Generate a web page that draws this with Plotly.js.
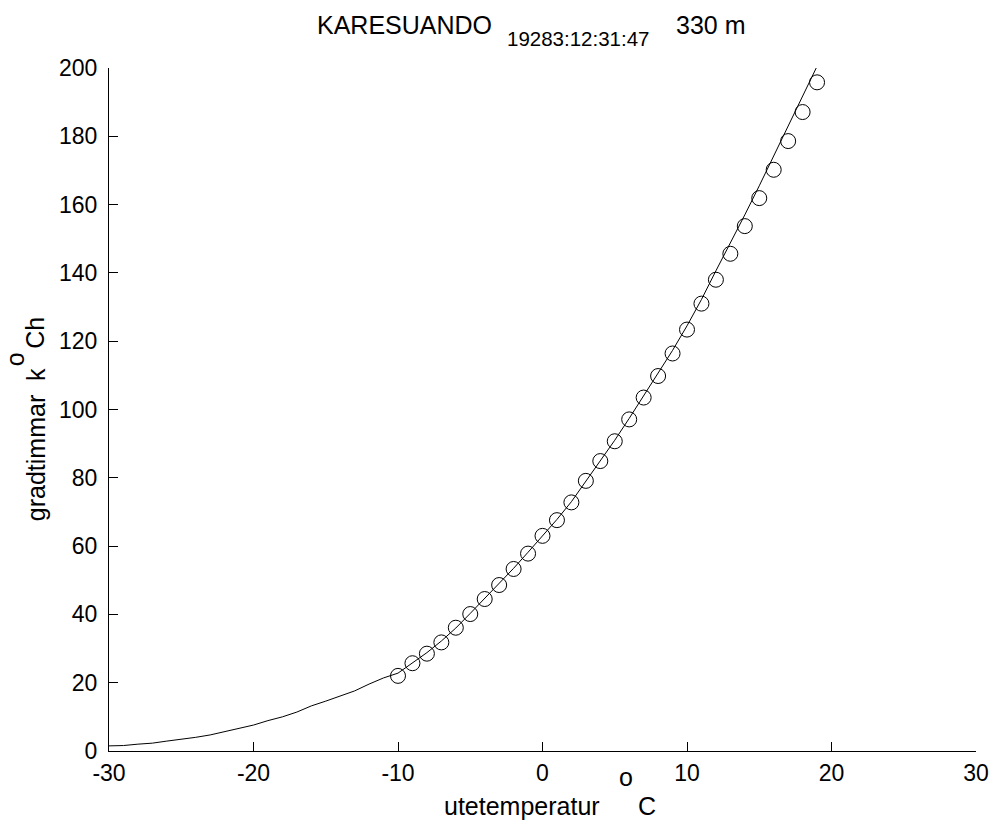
<!DOCTYPE html>
<html>
<head>
<meta charset="utf-8">
<script src="https://cdn.plot.ly/plotly-3.0.1.min.js"></script>
<style>html,body{margin:0;padding:0;background:#fff;}#chart{width:994px;height:830px;}</style>
</head>
<body>
<div id="chart"></div>
<script>
// Fitted curve (line)
const curveX = [-30,-29,-28,-27,-26,-25,-24,-23,-22,-21,-20,-19,-18,-17,-16,-15,-14,-13,-12,-11,-10,-9,-8,-7,-6,-5,-4,-3,-2,-1,0,1,2,3,4,5,6,7,8,9,10,11,12,13,14,15,16,17,18,19];
const curveY = [1.5,1.6,2.0,2.3,2.9,3.4,4.0,4.7,5.6,6.5,7.6,8.9,10.0,11.4,13.2,14.6,16.0,17.6,19.6,21.4,22.8,25.8,28.8,32.2,36.0,40.3,44.6,49.0,53.5,58.2,63.0,67.8,73.0,78.9,84.8,91.0,97.4,104.0,110.6,117.3,124.5,132.2,140.6,148.6,157.0,165.5,174.2,183.0,191.8,200.5];
// Observed points (circles)
const obsX = [-10,-9,-8,-7,-6,-5,-4,-3,-2,-1,0,1,2,3,4,5,6,7,8,9,10,11,12,13,14,15,16,17,18,19];
const obsY = [22.0,25.7,28.5,31.8,36.1,40.1,44.5,48.6,53.3,57.8,63.0,67.6,72.8,79.1,84.9,90.7,97.1,103.5,109.8,116.4,123.4,131.0,138.0,145.6,153.7,161.9,170.2,178.6,187.1,195.8];
const xTicks = [-30,-20,-10,0,10,20,30];
const yTicks = [0,20,40,60,80,100,120,140,160,180,200];

const FONT = 'Liberation Sans, Arial, sans-serif';
const TICK = 23, LAB = 25;

// plot area in pixels
const L = 108.5, R = 975.7, T = 67.5, B = 751;
const W = R - L, H = B - T;
const px = v => (v - L) / W;          // pixel x -> paper x
const py = v => (B - v) / H;          // pixel y -> paper y

function txt(text, x, y, size, opts) {
  return Object.assign({text: text, xref:'paper', yref:'paper', x: px(x), y: py(y),
    showarrow:false, xanchor:'left', yanchor:'middle', borderpad:0,
    font:{family:FONT, size:size, color:'#000'}}, opts || {});
}

const traces = [
  {x: curveX, y: curveY, type:'scatter', mode:'lines', line:{color:'#000', width:1}, hoverinfo:'skip'},
  {x: obsX, y: obsY, type:'scatter', mode:'markers',
   marker:{symbol:'circle-open', size:15, color:'#000', line:{width:1, color:'#000'}}}
];

const layout = {
  width: 994, height: 830,
  paper_bgcolor:'#fff', plot_bgcolor:'#fff',
  showlegend:false,
  margin:{l:L, r:994 - R, t:T, b:830 - B},
  font:{family:FONT, size:TICK, color:'#000'},
  xaxis:{range:[-30,30], tickvals:xTicks, ticktext:xTicks.map(String),
    ticks:'inside', ticklen:9, tickcolor:'#000', tickwidth:1,
    showline:true, linecolor:'#000', linewidth:1, mirror:false,
    showgrid:false, zeroline:false, ticklabelstandoff:1,
    tickfont:{family:FONT, size:TICK, color:'#000'}},
  yaxis:{range:[0,200], tickvals:yTicks, ticktext:yTicks.map(String),
    ticks:'inside', ticklen:9, tickcolor:'#000', tickwidth:1,
    showline:true, linecolor:'#000', linewidth:1, mirror:false,
    showgrid:false, zeroline:false, ticklabelstandoff:6,
    tickfont:{family:FONT, size:TICK, color:'#000'}},
  annotations:[
    // title pieces
    txt('KARESUANDO', 316, 24, LAB),
    txt('19283:12:31:47', 506, 38, 20.5),
    txt('330 m', 675, 24, LAB),
    // x-axis title
    txt('utetemperatur', 443, 806, LAB),
    txt('o', 618, 777, LAB),
    txt('C', 637, 806, LAB),
    // y-axis title (rotated)
    txt('gradtimmar  k', 35, 522, LAB, {textangle:-90, xanchor:'center', yanchor:'bottom'}),
    txt('o', 14.5, 367, LAB, {textangle:-90, xanchor:'center', yanchor:'bottom'}),
    txt('Ch', 35, 350, LAB, {textangle:-90, xanchor:'center', yanchor:'bottom'})
  ]
};

Plotly.newPlot('chart', traces, layout, {displayModeBar:false, staticPlot:true});
</script>
</body>
</html>
